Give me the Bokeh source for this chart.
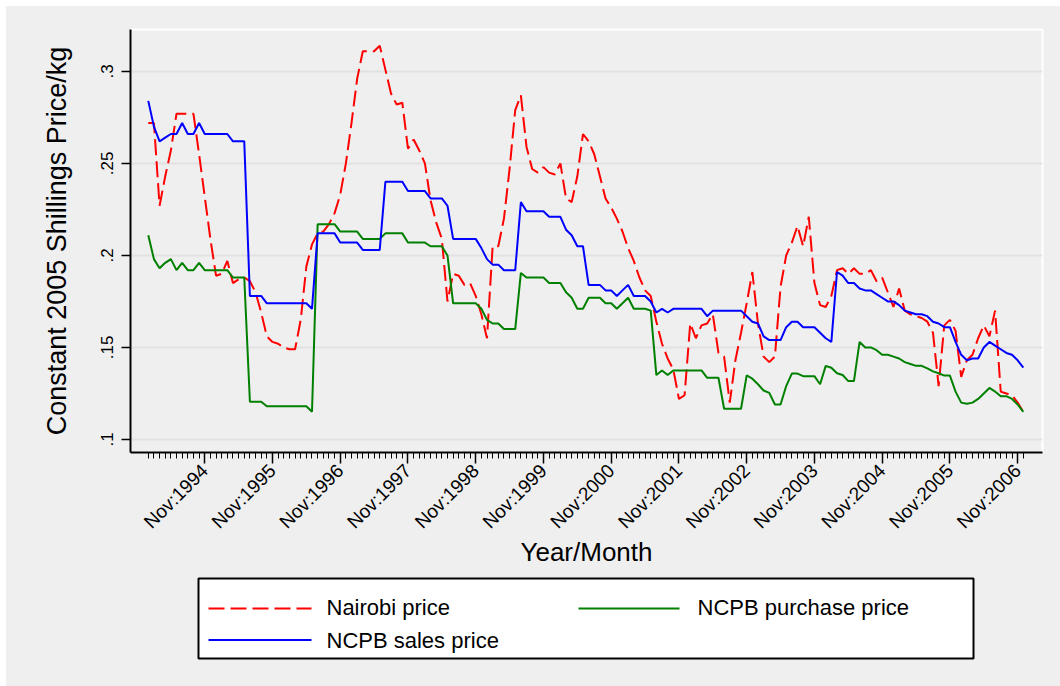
import numpy as np
from bokeh.plotting import figure
from bokeh.models import Range1d, FixedTicker
from bokeh.layouts import column
from bokeh.embed import file_html
from bokeh.resources import INLINE
from bokeh.core.properties import value

# ---------------- data (monthly, Jan 1994 - Dec 2006) ----------------
nairobi = [
    .272, .272, .227, .243, .257, .277, .277, .277, .277, .255, .232, .209,
    .189, .190, .197, .185, .187, .188, .186, .180, .169, .156, .153, .152,
    .150, .149, .149, .165, .194, .206, .212, .213, .217, .223, .233, .250,
    .272, .296, .311, .311, .311, .314, .301, .288, .282, .283, .258, .263,
    .257, .250, .230, .218, .209, .175, .190, .189, .184, .185, .178, .168,
    .155, .205, .205, .220, .247, .279, .287, .259, .247, .245, .248, .245,
    .244, .250, .231, .229, .243, .266, .262, .255, .243, .231, .226, .220,
    .213, .204, .197, .188, .181, .178, .164, .152, .144, .138, .122, .124,
    .163, .155, .162, .163, .168, .147, .145, .120, .143, .158, .174, .191,
    .163, .145, .142, .145, .183, .200, .207, .216, .205, .221, .185, .173,
    .172, .178, .192, .193, .190, .193, .190, .190, .192, .186, .188, .180,
    .172, .182, .170, .168, .167, .166, .164, .158, .129, .162, .165, .159,
    .134, .143, .146, .155, .162, .156, .170, .126, .125, .124, .120, .115,
]
purchase = [
    .211, .198, .193, .196, .198, .192, .196, .192, .192, .196, .192, .192,
    .192, .192, .192, .188, .188, .188, .1205, .1205, .1205, .118, .118, .118,
    .118, .118, .118, .118, .118, .115, .217, .217, .217, .217, .213, .213,
    .213, .213, .209, .209, .209, .209, .212, .212, .212, .212, .207, .207,
    .207, .207, .205, .205, .205, .200, .174, .174, .174, .174, .174, .171,
    .165, .163, .163, .160, .160, .160, .1905, .188, .188, .188, .188, .185,
    .185, .185, .180, .177, .171, .171, .177, .177, .177, .174, .174, .171,
    .174, .177, .171, .171, .171, .170, .135, .1375, .135, .1375, .1375, .1375,
    .1375, .1375, .1375, .1335, .1335, .1335, .1167, .1167, .1167, .1167, .1348, .133,
    .130, .1266, .1253, .119, .119, .129, .1358, .1358, .1344, .1344, .1344, .130,
    .140, .139, .136, .135, .1317, .1317, .153, .150, .150, .1485, .146, .146,
    .145, .144, .142, .141, .140, .140, .1386, .137, .136, .1347, .1347, .126,
    .120, .1194, .120, .122, .125, .128, .126, .1235, .1235, .122, .119, .115,
]
sales = [
    .284, .270, .262, .264, .266, .266, .272, .266, .266, .272, .266, .266,
    .266, .266, .266, .262, .262, .262, .178, .178, .178, .174, .174, .174,
    .174, .174, .174, .174, .174, .171, .212, .212, .212, .212, .207, .207,
    .207, .207, .203, .203, .203, .203, .240, .240, .240, .240, .235, .235,
    .235, .235, .231, .231, .231, .227, .209, .209, .209, .209, .209, .204,
    .198, .195, .195, .192, .192, .192, .229, .224, .224, .224, .224, .221,
    .221, .221, .214, .211, .205, .205, .184, .184, .184, .181, .181, .178,
    .181, .184, .178, .178, .178, .175, .169, .171, .169, .171, .171, .171,
    .171, .171, .171, .167, .170, .170, .170, .170, .170, .170, .167, .164,
    .163, .156, .154, .154, .154, .161, .164, .164, .161, .161, .161, .158,
    .155, .153, .191, .189, .185, .185, .182, .181, .181, .179, .177, .175,
    .175, .173, .170, .169, .168, .168, .167, .164, .163, .161, .161, .153,
    .146, .143, .144, .144, .150, .153, .151, .149, .147, .146, .143, .139,
]
series_names = ["Nairobi price", "NCPB purchase price", "NCPB sales price"]
series_colors = ["#ff0000", "#008000", "#0000ff"]
tick_months = list(range(10, 156, 12))            # November of each year
tick_labels = ["Nov:%d" % (1994 + k) for k in range(13)]
y_ticks = [0.1, 0.15, 0.2, 0.25, 0.3]
y_tick_labels = [".1", ".15", ".2", ".25", ".3"]

BG = "#efefef"
FONT = "Liberation Sans"
DASH = "16 6"

months = np.arange(len(nairobi))

FW, FH = 912, 423
BL, BR = 124, 18
MAIN_H = 566

p = figure(frame_width=FW, frame_height=FH,
           x_range=Range1d(-3.15, 158.4), y_range=Range1d(0.0929, 0.3228),
           output_backend="svg", toolbar_location=None,
           min_border_left=BL, min_border_right=BR,
           min_border_top=23, min_border_bottom=MAIN_H - 23 - FH,
           background_fill_color=BG, border_fill_color=BG)

p.line(months, nairobi, line_color=series_colors[0], line_width=2, line_dash=DASH)
p.line(months, purchase, line_color=series_colors[1], line_width=2)
p.line(months, sales, line_color=series_colors[2], line_width=2)

p.outline_line_color = "white"
p.outline_line_width = 2
p.xgrid.visible = False
p.ygrid.grid_line_color = "#e2e2e2"
p.ygrid.grid_line_width = 2

xa = p.xaxis[0]
xa.ticker = FixedTicker(ticks=tick_months, minor_ticks=list(months))
xa.major_label_overrides = {m: l for m, l in zip(tick_months, tick_labels)}
xa.major_label_orientation = np.pi / 4
xa.major_tick_in = 0
xa.major_tick_out = 11
xa.minor_tick_in = 0
xa.minor_tick_out = 6
xa.major_tick_line_width = 1.5
xa.minor_tick_line_width = 1
xa.axis_line_width = 2
xa.major_label_standoff = 4
xa.major_label_text_font = FONT
xa.major_label_text_font_size = "19px"
xa.major_label_text_color = "black"
xa.axis_label = "Year/Month"
xa.axis_label_text_font = FONT
xa.axis_label_text_font_size = "26px"
xa.axis_label_text_font_style = "normal"
xa.axis_label_text_color = "black"
xa.axis_label_standoff = -6

ya = p.yaxis[0]
ya.ticker = FixedTicker(ticks=y_ticks, minor_ticks=[])
ya.major_label_overrides = {t: l for t, l in zip(y_ticks, y_tick_labels)}
ya.major_label_orientation = "vertical"
ya.major_tick_in = 0
ya.major_tick_out = 9
ya.major_tick_line_width = 1.5
ya.axis_line_width = 2
ya.major_label_standoff = 8
ya.major_label_text_font = FONT
ya.major_label_text_font_size = "17px"
ya.major_label_text_color = "black"
ya.axis_label = "Constant 2005 Shillings Price/kg"
ya.axis_label_text_font = FONT
ya.axis_label_text_font_size = "27px"
ya.axis_label_text_font_style = "normal"
ya.axis_label_text_color = "black"
ya.axis_label_standoff = 27

# ---------------- legend panel (1 data unit = 1 page pixel) ----------------
LH = 114
LEG_TOP = 6 + MAIN_H
leg = figure(frame_width=FW, frame_height=LH,
             x_range=Range1d(6 + BL, 6 + BL + FW), y_range=Range1d(LEG_TOP + LH, LEG_TOP),
             output_backend="svg", toolbar_location=None,
             min_border_left=BL, min_border_right=BR, min_border_top=0, min_border_bottom=0,
             x_axis_type=None, y_axis_type=None,
             background_fill_color=BG, border_fill_color=BG)
leg.outline_line_color = None
leg.grid.visible = False

leg.quad(left=[198], right=[973], top=[578], bottom=[658],
         fill_color="white", line_color="black", line_width=2)

key_x0 = [208, 578, 208]
key_x1 = [311, 679, 311]
key_y = [608, 608, 639.5]
text_x = [326, 697, 326]
text_y = [607, 607, 639.5]
dashes = [DASH, "solid", "solid"]
for i in range(3):
    leg.line([key_x0[i], key_x1[i]], [key_y[i], key_y[i]],
             line_color=series_colors[i], line_width=2, line_dash=dashes[i])
leg.text(x=text_x, y=text_y, text=series_names,
         text_font=value(FONT), text_font_size="22px",
         text_baseline="alphabetic", text_align="left", text_color="black")

layout = column(p, leg, spacing=0, margin=(6, 0, 0, 6), styles={"background-color": BG})
open("out.html", "w").write(file_html(layout, INLINE))
